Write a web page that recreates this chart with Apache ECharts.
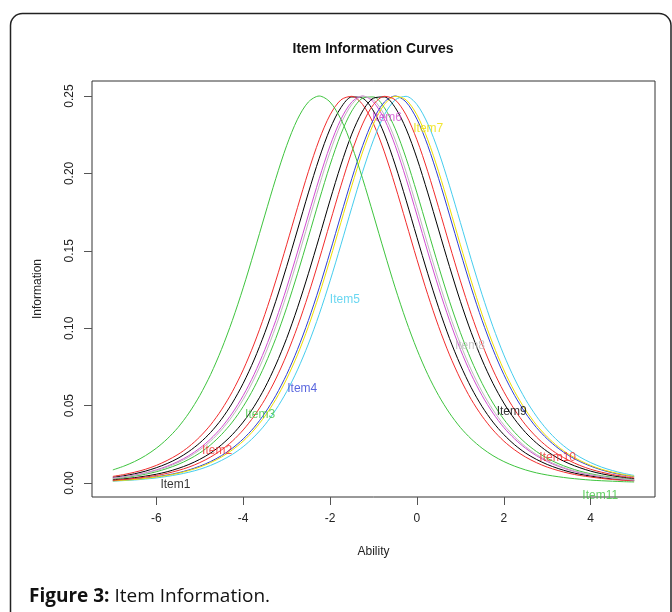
<!DOCTYPE html>
<html>
<head>
<meta charset="utf-8">
<script src="https://cdn.jsdelivr.net/npm/echarts@6/dist/echarts.min.js"></script>
<style>html,body{margin:0;padding:0;background:#fff}#c{width:672px;height:612px}</style>
</head>
<body>
<div id="c"></div>
<script>
// Ability grid (x values)
const theta = [-7,-6.75,-6.5,-6.25,-6,-5.75,-5.5,-5.25,-5,-4.75,-4.5,-4.25,-4,-3.75,-3.5,-3.25,-3,-2.75,-2.5,-2.25,-2,-1.75,-1.5,-1.25,-1,-0.75,-0.5,-0.25,0,0.25,0.5,0.75,1,1.25,1.5,1.75,2,2.25,2.5,2.75,3,3.25,3.5,3.75,4,4.25,4.5,4.75,5];
const xTicks = [-6,-4,-2,0,2,4];
const yTicks = [0,0.05,0.10,0.15,0.20,0.25];
const itemNames = ['Item1','Item2','Item3','Item4','Item5','Item6','Item7','Item8','Item9','Item10','Item11'];

// Information values, one array per item
const item1  = [0.0037,0.0047,0.0060,0.0077,0.0099,0.0126,0.0160,0.0204,0.0259,0.0327,0.0412,0.0517,0.0644,0.0795,0.0972,0.1174,0.1398,0.1635,0.1874,0.2098,0.2288,0.2425,0.2494,
                0.2486,0.2403,0.2254,0.2055,0.1827,0.1587,0.1352,0.1132,0.0934,0.0763,0.0616,0.0494,0.0394,0.0313,0.0247,0.0194,0.0153,0.0120,0.0094,0.0073,0.0057,0.0045,0.0035,0.0027,0.0021,0.0017];
const item2  = [0.0043,0.0055,0.0070,0.0089,0.0114,0.0146,0.0185,0.0235,0.0298,0.0376,0.0473,0.0590,0.0731,0.0898,0.1090,0.1306,0.1539,0.1779,0.2011,0.2217,0.2378,0.2475,
                0.2498,0.2445,0.2320,0.2139,0.1920,0.1683,0.1444,0.1217,0.1010,0.0828,0.0672,0.0540,0.0432,0.0343,0.0271,0.0214,0.0168,0.0132,0.0103,0.0081,0.0063,0.0049,0.0039,0.0030,0.0023,0.0018,0.0014];
const item3  = [0.0027,0.0035,0.0045,0.0057,0.0073,0.0094,0.0120,0.0153,0.0194,0.0247,0.0313,0.0394,0.0494,0.0616,0.0763,0.0934,0.1132,0.1352,0.1587,0.1827,0.2055,0.2254,0.2403,0.2486,
                0.2494,0.2425,0.2288,0.2098,0.1874,0.1635,0.1398,0.1174,0.0972,0.0795,0.0644,0.0517,0.0412,0.0327,0.0259,0.0204,0.0160,0.0126,0.0099,0.0077,0.0060,0.0047,0.0037,0.0029,0.0022];
const item4  = [0.0015,0.0019,0.0025,0.0032,0.0041,0.0052,0.0066,0.0085,0.0109,0.0139,0.0177,0.0225,0.0285,0.0359,0.0452,0.0565,0.0701,0.0863,0.1050,0.1261,0.1492,0.1731,0.1966,0.2179,0.2350,0.2461,
                0.2500,0.2461,0.2350,0.2179,0.1966,0.1731,0.1492,0.1261,0.1050,0.0863,0.0701,0.0565,0.0452,0.0359,0.0285,0.0225,0.0177,0.0139,0.0109,0.0085,0.0066,0.0052,0.0041];
const item5  = [0.0012,0.0016,0.0020,0.0026,0.0033,0.0043,0.0055,0.0070,0.0089,0.0114,0.0146,0.0185,0.0235,0.0298,0.0376,0.0473,0.0590,0.0731,0.0898,0.1090,0.1306,0.1539,0.1779,0.2011,0.2217,0.2378,0.2475,
                0.2498,0.2445,0.2320,0.2139,0.1920,0.1683,0.1444,0.1217,0.1010,0.0828,0.0672,0.0540,0.0432,0.0343,0.0271,0.0214,0.0168,0.0132,0.0103,0.0081,0.0063,0.0049];
const item6  = [0.0032,0.0041,0.0052,0.0066,0.0085,0.0109,0.0139,0.0177,0.0225,0.0285,0.0359,0.0452,0.0565,0.0701,0.0863,0.1050,0.1261,0.1492,0.1731,0.1966,0.2179,0.2350,0.2461,
                0.2500,0.2461,0.2350,0.2179,0.1966,0.1731,0.1492,0.1261,0.1050,0.0863,0.0701,0.0565,0.0452,0.0359,0.0285,0.0225,0.0177,0.0139,0.0109,0.0085,0.0066,0.0052,0.0041,0.0032,0.0025,0.0019];
const item7  = [0.0014,0.0018,0.0023,0.0030,0.0039,0.0049,0.0063,0.0081,0.0103,0.0132,0.0168,0.0214,0.0271,0.0343,0.0432,0.0540,0.0672,0.0828,0.1010,0.1217,0.1444,0.1683,0.1920,0.2139,0.2320,0.2445,0.2498,
                0.2475,0.2378,0.2217,0.2011,0.1779,0.1539,0.1306,0.1090,0.0898,0.0731,0.0590,0.0473,0.0376,0.0298,0.0235,0.0185,0.0146,0.0114,0.0089,0.0070,0.0055,0.0043];
const item8  = [0.0030,0.0039,0.0049,0.0063,0.0081,0.0103,0.0132,0.0168,0.0214,0.0271,0.0343,0.0432,0.0540,0.0672,0.0828,0.1010,0.1217,0.1444,0.1683,0.1920,0.2139,0.2320,0.2445,0.2498,
                0.2475,0.2378,0.2217,0.2011,0.1779,0.1539,0.1306,0.1090,0.0898,0.0731,0.0590,0.0473,0.0376,0.0298,0.0235,0.0185,0.0146,0.0114,0.0089,0.0070,0.0055,0.0043,0.0033,0.0026,0.0020];
const item9  = [0.0021,0.0027,0.0035,0.0045,0.0057,0.0073,0.0094,0.0120,0.0153,0.0194,0.0247,0.0313,0.0394,0.0494,0.0616,0.0763,0.0934,0.1132,0.1352,0.1587,0.1827,0.2055,0.2254,0.2403,0.2486,
                0.2494,0.2425,0.2288,0.2098,0.1874,0.1635,0.1398,0.1174,0.0972,0.0795,0.0644,0.0517,0.0412,0.0327,0.0259,0.0204,0.0160,0.0126,0.0099,0.0077,0.0060,0.0047,0.0037,0.0029];
const item10 = [0.0018,0.0023,0.0030,0.0039,0.0049,0.0063,0.0081,0.0103,0.0132,0.0168,0.0214,0.0271,0.0343,0.0432,0.0540,0.0672,0.0828,0.1010,0.1217,0.1444,0.1683,0.1920,0.2139,0.2320,0.2445,0.2498,
                0.2475,0.2378,0.2217,0.2011,0.1779,0.1539,0.1306,0.1090,0.0898,0.0731,0.0590,0.0473,0.0376,0.0298,0.0235,0.0185,0.0146,0.0114,0.0089,0.0070,0.0055,0.0043,0.0033];
const item11 = [0.0085,0.0109,0.0139,0.0177,0.0225,0.0285,0.0359,0.0452,0.0565,0.0701,0.0863,0.1050,0.1261,0.1492,0.1731,0.1966,0.2179,0.2350,0.2461,0.2500,
                0.2461,0.2350,0.2179,0.1966,0.1731,0.1492,0.1261,0.1050,0.0863,0.0701,0.0565,0.0452,0.0359,0.0285,0.0225,0.0177,0.0139,0.0109,0.0085,0.0066,0.0052,0.0041,0.0032,0.0025,0.0019,0.0015,0.0012,0.0009,0.0007];

// Item label anchor points (ability, information) as they appear in the picture
const labelTheta = [-5.56,-4.60,-3.61,-2.64,-1.66,-0.69,0.26,1.22,2.18,3.24,4.22];
const labelInfo  = [-0.0008,0.0207,0.0439,0.0612,0.1182,0.2360,0.2290,0.0885,0.0460,0.0165,-0.0082];

const itemValues = [item1,item2,item3,item4,item5,item6,item7,item8,item9,item10,item11];
const colors = ['#000000','#F22C2C','#3EC43E','#2E3FD6','#45CDEE','#D14BD1','#EEE000','#BBBBBB','#000000','#F22C2C','#3EC43E'];

const FONT = '"Liberation Sans", Arial, sans-serif';
const chart = echarts.init(document.getElementById('c'), null, {renderer: 'canvas'});

const series = itemValues.map((vals, i) => ({
  name: itemNames[i],
  type: 'line',
  data: theta.map((t, j) => [t, vals[j]]),
  showSymbol: false,
  smooth: 0.3,
  lineStyle: {width: 1, color: colors[i]},
  itemStyle: {color: colors[i]},
  silent: true,
  z: 2 + i * 0.01
}));

series.push({
  type: 'scatter',
  symbolSize: 0,
  silent: true,
  z: 5,
  data: itemNames.map((n, i) => ({
    name: n,
    value: [labelTheta[i], labelInfo[i]],
    label: {color: colors[i]}
  })),
  label: {
    show: true,
    position: 'inside',
    formatter: p => p.name,
    fontFamily: FONT,
    fontSize: 12
  }
});

chart.setOption({
  animation: false,
  backgroundColor: '#fff',
  grid: {left: 92, top: 81, width: 563, height: 416, show: true, borderColor: '#333', borderWidth: 1, containLabel: false},
  xAxis: {
    type: 'value', min: -7.48, max: 5.48,
    name: 'Ability', nameLocation: 'middle', nameGap: 49,
    nameTextStyle: {fontFamily: FONT, fontSize: 12, color: '#222'},
    axisLine: {show: false, onZero: false},
    splitLine: {show: false},
    axisTick: {show: true, length: 8, customValues: xTicks, lineStyle: {color: '#555'}},
    axisLabel: {customValues: xTicks, margin: 16, fontFamily: FONT, fontSize: 12, color: '#222'}
  },
  yAxis: {
    type: 'value', min: -0.0090, max: 0.2597,
    name: 'Information', nameLocation: 'middle', nameGap: 48,
    nameTextStyle: {fontFamily: FONT, fontSize: 12, color: '#222'},
    axisLine: {show: false, onZero: false},
    splitLine: {show: false},
    axisTick: {show: true, length: 8, customValues: yTicks, lineStyle: {color: '#555'}},
    axisLabel: {customValues: yTicks, rotate: 90, margin: 16, fontFamily: FONT, fontSize: 12, color: '#222',
      formatter: v => v.toFixed(2)}
  },
  series: series,
  graphic: [
    {type: 'rect', silent: true, shape: {x: 10.5, y: 13.5, width: 660.5, height: 700, r: 12},
     style: {fill: 'none', stroke: '#222', lineWidth: 1.5}},
    {type: 'text', silent: true, x: 373, y: 49,
     style: {text: 'Item Information Curves', align: 'center', verticalAlign: 'middle',
       fontFamily: FONT, fontSize: 14, fontWeight: 'bold', fill: '#111'}},
    {type: 'text', silent: true, x: 29, y: 597,
     style: {text: '{b|Figure 3:} Item Information.', verticalAlign: 'middle',
       fontFamily: '"Open Sans", sans-serif', fontSize: 19, fill: '#111',
       rich: {b: {fontWeight: 'bold', fontFamily: '"Open Sans", sans-serif', fontSize: 19, fill: '#111'}}}}
  ]
});
</script>
</body>
</html>
